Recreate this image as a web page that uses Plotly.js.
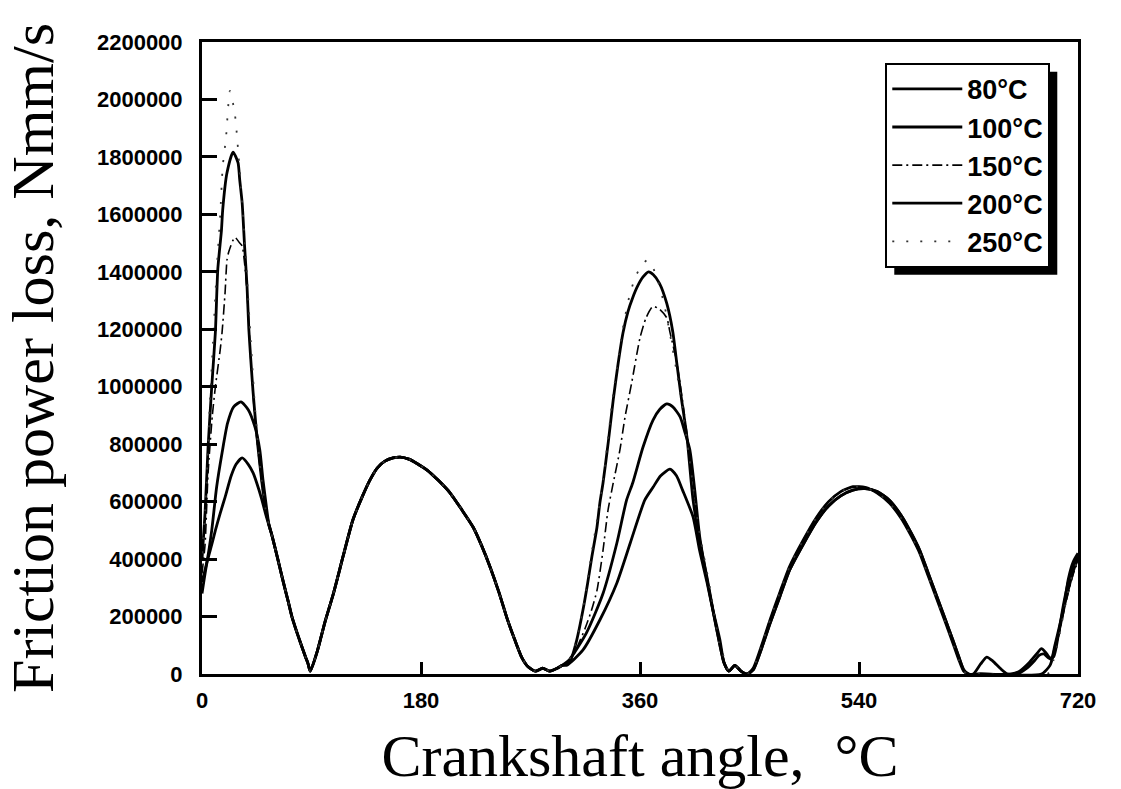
<!DOCTYPE html>
<html>
<head>
<meta charset="utf-8">
<script src="https://cdn.plot.ly/plotly-3.0.1.min.js"></script>
<style>
  html, body { margin: 0; padding: 0; background: #fff; }
  #chart { width: 1121px; height: 789px; }
</style>
</head>
<body>
<div id="chart"></div>
<script>
// ---------- DATA (Crankshaft angle in degrees, friction power loss in Nmm/s) ----------
const seriesNames = ['80\u00B0C', '100\u00B0C', '150\u00B0C', '200\u00B0C', '250\u00B0C'];

// Hump 1 (0-55 deg), one per series
const h1Angle80  = [0, 4, 8, 11, 15, 19, 24, 28, 33, 38, 42, 45, 49, 53];
const h1Val80    = [280000, 386000, 450000, 500000, 560000, 616000, 690000, 730000, 752000, 730000, 700000, 665000, 610000, 546000];
const h1Angle100 = [0, 4, 8, 12, 16.5, 21, 26, 32, 38, 43.5, 47.5, 50, 53, 55];
const h1Val100   = [320000, 390000, 500000, 650000, 770000, 873000, 930000, 947000, 920000, 860000, 780000, 680000, 580000, 520000];
const h1Angle150 = [0, 2.5, 5, 8.5, 11, 15, 16.5, 19, 20.5, 22, 27, 31, 33, 35, 37, 38.5, 40, 42, 44, 46, 49, 52, 55];
const h1Val150   = [350000, 450000, 700000, 900000, 1000000, 1130000, 1190000, 1330000, 1440000, 1470000, 1520000, 1500000, 1490000, 1430000, 1330000, 1220000, 1100000, 970000, 860000, 780000, 670000, 580000, 520000];
const h1Angle200 = [0, 2.5, 5, 8, 11, 13, 16, 17, 20.5, 25.5, 29.6, 31, 33, 35, 37, 38.5, 40, 42, 44, 46, 49, 52, 55];
const h1Val200   = [400000, 560000, 790000, 1000000, 1190000, 1410000, 1545000, 1615000, 1744000, 1817000, 1780000, 1720000, 1640000, 1490000, 1350000, 1200000, 1100000, 980000, 880000, 790000, 675000, 580000, 520000];
const h1Angle250 = [0, 3, 6, 9, 12, 15, 17, 19.7, 23, 27, 31, 35, 39.5, 42, 43.5, 46, 49, 52, 55];
const h1Val250   = [420000, 600000, 900000, 1150000, 1400000, 1600000, 1765000, 1866000, 2030000, 1950000, 1750000, 1520000, 1200000, 1030000, 930000, 800000, 675000, 580000, 520000];

// Shared descent of hump 1 and hump 2 (all curves coincide)
const descAngle = [57, 60, 64, 67, 71, 74, 78, 81, 85, 87, 89];
const descVal   = [490000, 440000, 370000, 317000, 250000, 198000, 145000, 108000, 60000, 38000, 10000];
const h2Angle = [95, 101, 108, 116, 124, 132, 138, 144, 150, 157, 163, 170, 177, 185, 194, 204, 213, 223, 230, 237, 244, 251, 257, 263, 268, 274, 280, 286, 292];
const h2Val   = [83000, 180000, 280000, 410000, 536000, 620000, 675000, 717000, 740000, 752000, 755000, 748000, 732000, 710000, 675000, 630000, 575000, 510000, 445000, 370000, 285000, 190000, 120000, 56000, 25000, 10000, 20000, 10000, 20000];

// Hump 3 (296-433 deg), one per series
const h3Angle80  = [296, 300, 313, 327, 341, 352, 364, 370.7, 377, 384.6, 390, 395, 403.6, 409, 415, 420, 425.7, 429, 433];
const h3Val80    = [30000, 31000, 83000, 188000, 317000, 456000, 606000, 650000, 690000, 713000, 690000, 640000, 547000, 430000, 320000, 220000, 100000, 40000, 10000];
const h3Angle100 = [296, 302, 316, 329.6, 341, 349, 354, 362.5, 370.7, 376, 382, 387, 393, 397, 401, 405, 409, 415, 420, 425.7, 429, 433];
const h3Val100   = [30000, 50000, 143000, 280000, 456000, 606000, 665000, 790000, 884000, 920000, 940000, 930000, 895000, 840000, 780000, 640000, 480000, 330000, 220000, 100000, 40000, 10000];
const h3Angle150 = [296, 302, 308, 315, 320, 324.6, 329.6, 333.7, 338, 343.5, 347.7, 353, 360, 365, 370.7, 376, 382, 384.6, 390, 395, 400, 405, 409, 415, 420, 425.7, 429, 433];
const h3Val150   = [30000, 40000, 90000, 160000, 220000, 290000, 430000, 570000, 665000, 780000, 895000, 1010000, 1170000, 1240000, 1280000, 1270000, 1240000, 1190000, 1090000, 950000, 790000, 620000, 480000, 330000, 220000, 100000, 40000, 10000];
const h3Angle200 = [296, 300, 304, 308, 313, 317, 320.5, 324.6, 327, 329.6, 334, 338, 342, 346, 350, 354, 358, 362.5, 367, 371, 376, 382, 387, 390, 394, 398.6, 403.6, 409, 415, 420, 425.7, 429, 433];
const h3Val200   = [30000, 35000, 60000, 118000, 220000, 317000, 410000, 510000, 595000, 665000, 810000, 954000, 1080000, 1187000, 1260000, 1310000, 1350000, 1382000, 1400000, 1390000, 1360000, 1290000, 1190000, 1090000, 960000, 825000, 606000, 466000, 338000, 223000, 118000, 40000, 10000];
const h3Angle250 = [296, 300, 308, 313, 317, 321, 325, 330, 338, 346, 351, 356, 361, 365.7, 370, 375, 380, 385, 390, 395, 400, 405, 409, 417.5, 425.7, 428, 433];
const h3Val250   = [30000, 35000, 120000, 225000, 325000, 440000, 545000, 685000, 975000, 1205000, 1310000, 1380000, 1420000, 1440000, 1420000, 1365000, 1285000, 1175000, 1055000, 925000, 770000, 610000, 490000, 300000, 94000, 70000, 10000];

// Gap after hump 3 (shared)
const gapAngle = [438, 443, 448];
const gapVal   = [30000, 10000, 0];

// Hump 4 (453-630 deg): two nearly coincident curves
const h4Angle = [453, 460, 467, 475, 483, 494, 505, 515, 525, 535, 545, 555, 565, 575, 583, 590, 597, 604, 611, 617, 622, 626, 630];
const h4ValA  = [14000, 90000, 177000, 270000, 362000, 450000, 530000, 585000, 620000, 640000, 645000, 635000, 605000, 550000, 490000, 430000, 350000, 270000, 190000, 120000, 60000, 15000, 0];
const h4ValB  = [20000, 100000, 190000, 285000, 375000, 465000, 545000, 600000, 635000, 652000, 650000, 630000, 595000, 540000, 480000, 420000, 340000, 260000, 180000, 110000, 50000, 10000, 0];

// Tail (640-720 deg), one per series
const tAngle80  = [640, 665, 672, 680, 686, 690, 694, 698, 701, 705, 709, 712, 716, 720];
const tVal80    = [0, 0, 10000, 40000, 70000, 88000, 72000, 50000, 100000, 170000, 250000, 330000, 390000, 420000];
const tAngle100 = [640, 670, 678, 684, 688, 692, 696, 700, 704, 708, 712, 716, 720];
const tVal100   = [0, 0, 20000, 45000, 65000, 70000, 55000, 60000, 140000, 240000, 320000, 380000, 410000];
const tAngle150 = [640, 690, 697, 701, 705, 709, 713, 717, 720];
const tVal150   = [0, 0, 30000, 80000, 150000, 230000, 300000, 360000, 390000];
const tAngle200 = [634, 640, 645, 650, 656, 662, 690, 697, 701, 705, 709, 713, 717, 720];
const tVal200   = [0, 35000, 59000, 45000, 20000, 0, 0, 30000, 90000, 160000, 240000, 310000, 370000, 400000];
const tAngle250 = [640, 695, 700, 705, 710, 715, 720];
const tVal250   = [0, 0, 50000, 140000, 250000, 340000, 400000];

const xTicks = [0, 180, 360, 540, 720];

// ---------- BUILD TRACES ----------
function build(h1a, h1v, h3a, h3v, h4v, ta, tv) {
  return {
    x: [].concat(h1a, descAngle, h2Angle, h3a, gapAngle, h4Angle, ta),
    y: [].concat(h1v, descVal, h2Val, h3v, gapVal, h4v, tv)
  };
}
const s80  = build(h1Angle80,  h1Val80,  h3Angle80,  h3Val80,  h4ValA, tAngle80,  tVal80);
const s100 = build(h1Angle100, h1Val100, h3Angle100, h3Val100, h4ValA, tAngle100, tVal100);
const s150 = build(h1Angle150, h1Val150, h3Angle150, h3Val150, h4ValB, tAngle150, tVal150);
const s200 = build(h1Angle200, h1Val200, h3Angle200, h3Val200, h4ValB, tAngle200, tVal200);
const s250 = build(h1Angle250, h1Val250, h3Angle250, h3Val250, h4ValB, tAngle250, tVal250);

const styles = [
  {color: '#000', width: 2.8, dash: 'solid'},
  {color: '#000', width: 2.8, dash: 'solid'},
  {color: '#000', width: 1.6, dash: '10px,4px,2px,4px'},
  {color: '#000', width: 2.8, dash: 'solid'},
  {color: '#333', width: 1.8, dash: '2px,12px'}
];
const data = [s80, s100, s150, s200, s250].map((s, i) => ({
  type: 'scatter', mode: 'lines', name: seriesNames[i],
  x: s.x, y: s.y, line: Object.assign({shape: 'spline', smoothing: 0.6}, styles[i])
}));

const tickFont = {family: 'Liberation Sans, Arial, sans-serif', size: 22, color: '#000', weight: 'bold'};
const titleFont = {family: 'Liberation Serif, "Times New Roman", serif', size: 60, color: '#000'};

const layout = {
  width: 1121, height: 789,
  margin: {l: 202, r: 43, t: 42, b: 115, pad: 0},
  paper_bgcolor: '#fff', plot_bgcolor: '#fff',
  showlegend: true,
  xaxis: {
    range: [0, 720], tickvals: xTicks, ticktext: xTicks.map(String),
    ticks: 'inside', ticklen: 12, tickwidth: 3, tickcolor: '#000',
    showline: true, linewidth: 3, linecolor: '#000', mirror: true,
    showgrid: false, zeroline: false, tickfont: tickFont,
    ticklabelstandoff: 5,
    title: {text: 'Crankshaft angle,  \u00B0C', font: titleFont, standoff: 22}
  },
  yaxis: {
    range: [0, 2200000], dtick: 200000, tick0: 0, tickformat: 'd',
    ticks: 'inside', ticklen: 15, tickwidth: 3, tickcolor: '#000',
    showline: true, linewidth: 3, linecolor: '#000', mirror: true,
    showgrid: false, zeroline: false, tickfont: tickFont,
    ticklabelstandoff: 12,
    title: {text: 'Friction power loss, Nmm/s', font: titleFont, standoff: 24}
  },
  legend: {
    x: 0.78, y: 0.967, xanchor: 'left', yanchor: 'top',
    bgcolor: '#fff', bordercolor: '#000', borderwidth: 2,
    font: {family: 'Liberation Sans, Arial, sans-serif', size: 27, color: '#000', weight: 'bold'},
    itemwidth: 70, tracegroupgap: 0
  }
};

const gd = document.getElementById('chart');
Plotly.newPlot(gd, data, layout, {displayModeBar: false, staticPlot: true}).then(() => {
  // legend drop shadow, sized from the rendered legend box
  const bg = gd.querySelector('.legend .bg');
  if (!bg) return;
  const r = bg.getBoundingClientRect();
  const c = gd.getBoundingClientRect();
  const sz = gd._fullLayout._size;
  const off = 8;
  const toPx = px => (px - sz.l) / sz.w;
  const toPy = py => (sz.t + sz.h - py) / sz.h;
  const x0 = r.left - c.left + off, x1 = r.right - c.left + off;
  const y0 = r.top - c.top + off, y1 = r.bottom - c.top + off;
  Plotly.relayout(gd, {shapes: [{
    type: 'rect', xref: 'paper', yref: 'paper',
    x0: toPx(x0), x1: toPx(x1), y0: toPy(y1), y1: toPy(y0),
    fillcolor: '#000', line: {width: 0}, layer: 'above'
  }]});
});
</script>
</body>
</html>
